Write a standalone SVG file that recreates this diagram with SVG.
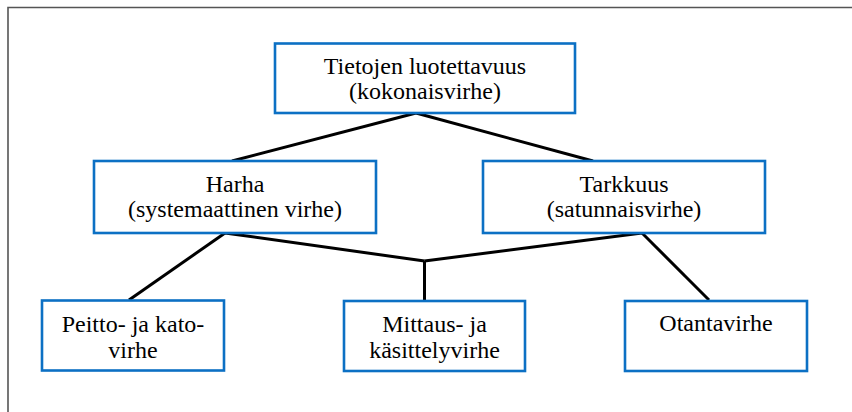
<svg xmlns="http://www.w3.org/2000/svg" width="852" height="412" viewBox="0 0 852 412">
<style>
.box{fill:#fff;stroke:#0C70C4;stroke-width:2.6}
.t{font-family:"Liberation Serif","Times New Roman",serif;font-size:24px;fill:#000;text-anchor:middle}
.c{stroke:#000;stroke-width:3;fill:none;stroke-linecap:butt}
</style>
<rect width="852" height="412" fill="#fff"/>
<path d="M8,412 V7.5 H852" fill="none" stroke="#555" stroke-width="1.6"/>
<g id="connectors">
<line class="c" x1="416" y1="113" x2="232" y2="161"/>
<line class="c" x1="416" y1="113" x2="593" y2="161"/>
<line class="c" x1="225" y1="233" x2="129" y2="300"/>
<line class="c" x1="225" y1="233" x2="424.5" y2="261"/>
<line class="c" x1="642" y1="233" x2="424.5" y2="261"/>
<line class="c" x1="424.5" y1="261" x2="424.5" y2="301"/>
<line class="c" x1="642" y1="233" x2="709" y2="300"/>
</g>
<g id="n-top">
<rect class="box" x="275" y="43.5" width="300" height="69.5"/>
<text class="t" x="425" y="74">Tietojen luotettavuus</text>
<text class="t" x="425" y="99">(kokonaisvirhe)</text>
</g>
<g id="n-harha">
<rect class="box" x="94" y="161" width="282" height="72"/>
<text class="t" x="235" y="192">Harha</text>
<text class="t" x="235" y="217">(systemaattinen virhe)</text>
</g>
<g id="n-tarkkuus">
<rect class="box" x="483" y="161" width="282" height="72"/>
<text class="t" x="624" y="192">Tarkkuus</text>
<text class="t" x="624" y="217">(satunnaisvirhe)</text>
</g>
<g id="n-peitto">
<rect class="box" x="42" y="300.5" width="182" height="70"/>
<text class="t" x="133" y="332">Peitto- ja kato-</text>
<text class="t" x="133" y="358">virhe</text>
</g>
<g id="n-mittaus">
<rect class="box" x="344" y="301" width="181" height="70"/>
<text class="t" x="434.5" y="332">Mittaus- ja</text>
<text class="t" x="434.5" y="358">käsittelyvirhe</text>
</g>
<g id="n-otanta">
<rect class="box" x="625" y="301" width="182" height="70"/>
<text class="t" x="716" y="331">Otantavirhe</text>
</g>
</svg>
